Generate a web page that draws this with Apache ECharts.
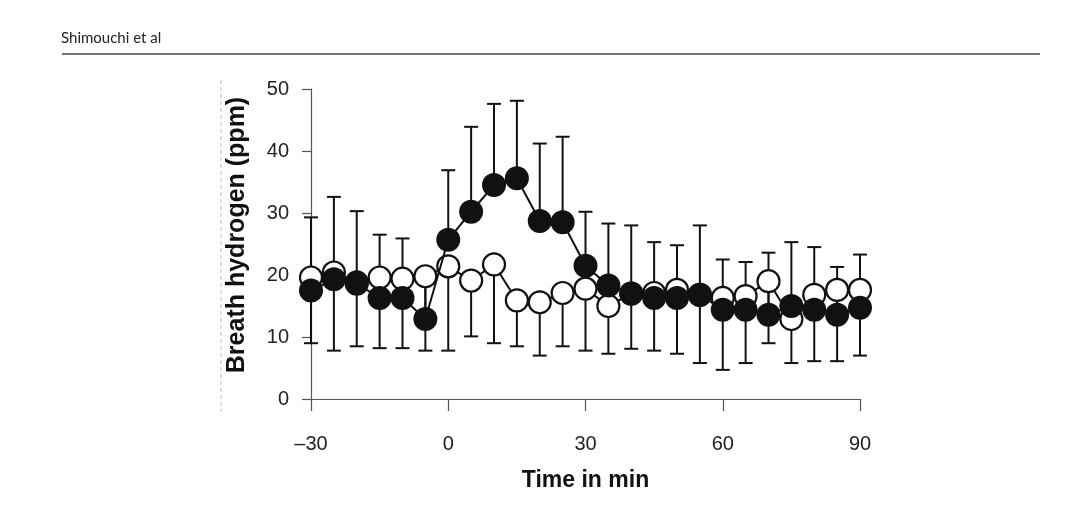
<!DOCTYPE html>
<html lang="en">
<head>
    <meta charset="UTF-8">
    <title>Breath hydrogen</title>
    <style>
        html, body { margin: 0; padding: 0; background: #fff; }
        #main { width: 1080px; height: 505px; }
    </style>
</head>
<body>
<div id="main"></div>
<script src="https://cdn.jsdelivr.net/npm/echarts@6/dist/echarts.min.js"></script>
<script type="text/javascript">
    // time points (min)
    var times = [-30, -25, -20, -15, -10, -5, 0, 5, 10, 15, 20, 25, 30, 35, 40, 45, 50, 55, 60, 65, 70, 75, 80, 85, 90];
    // open circles: mean, lower end of error bar
    var openMean = [19.6, 20.4, 18.8, 19.6, 19.4, 19.8, 21.4, 19.1, 21.7, 15.9, 15.6, 17.1, 17.8, 15.0, 17.0, 17.1, 17.6, 16.8, 16.3, 16.6, 19.0, 12.9, 16.8, 17.6, 17.6];
    var openLow = [9.0, 7.8, 8.5, 8.2, 8.2, 7.8, 7.8, 10.1, 9.0, 8.5, 7.0, 8.5, 7.8, 7.3, 8.1, 7.8, 7.3, 5.8, 4.7, 5.8, 9.0, 5.8, 6.1, 6.1, 7.0];
    // filled circles: mean, upper end of error bar
    var filledMean = [17.5, 19.3, 18.6, 16.3, 16.3, 12.9, 25.7, 30.2, 34.5, 35.6, 28.7, 28.5, 21.5, 18.3, 17.0, 16.3, 16.3, 16.8, 14.4, 14.4, 13.6, 15.0, 14.4, 13.6, 14.7];
    var filledHigh = [29.3, 32.6, 30.3, 26.5, 25.9, 18.5, 36.9, 43.9, 47.6, 48.1, 41.2, 42.3, 30.2, 28.3, 28.0, 25.3, 24.8, 28.0, 22.5, 22.1, 23.6, 25.3, 24.5, 21.3, 23.3];

    var yTicks = [0, 10, 20, 30, 40, 50];

    var ink = '#111';
    var axisInk = '#555';
    var font = 'Liberation Sans, Arial, sans-serif';

    var openData = [], openBars = [], filledData = [], filledBars = [];
    for (var i = 0; i < times.length; i++) {
        openData.push([times[i], openMean[i]]);
        openBars.push([times[i], openMean[i], openLow[i]]);
        filledData.push([times[i], filledMean[i]]);
        filledBars.push([times[i], filledMean[i], filledHigh[i]]);
    }

    // error bar: vertical stem plus a cap at the far end
    function renderBar(params, api) {
        var p0 = api.coord([api.value(0), api.value(1)]);
        var p1 = api.coord([api.value(0), api.value(2)]);
        var half = 7;
        var st = { stroke: ink, lineWidth: 2 };
        return {
            type: 'group',
            children: [
                { type: 'line', shape: { x1: p0[0], y1: p0[1], x2: p1[0], y2: p1[1] }, style: st },
                { type: 'line', shape: { x1: p1[0] - half, y1: p1[1], x2: p1[0] + half, y2: p1[1] }, style: st }
            ]
        };
    }

    var myChart = echarts.init(document.getElementById('main'));

    var option = {
        backgroundColor: '#fff',
        animation: false,
        grid: { left: 311, right: 220, top: 89, bottom: 106 },
        xAxis: {
            type: 'value',
            min: -30,
            max: 90,
            interval: 30,
            name: 'Time in min',
            nameLocation: 'middle',
            nameGap: 70,
            nameTextStyle: { fontFamily: font, fontSize: 23, fontWeight: 'bold', color: ink },
            axisLine: { onZero: false, lineStyle: { color: axisInk, width: 1.2 } },
            axisTick: { length: 12, lineStyle: { color: axisInk, width: 1.2 } },
            axisLabel: {
                margin: 35,
                fontFamily: font,
                fontSize: 20,
                color: '#222',
                formatter: function (v) { return String(v).replace('-', '\u2013'); }
            },
            splitLine: { show: false }
        },
        yAxis: {
            type: 'value',
            min: yTicks[0],
            max: yTicks[yTicks.length - 1],
            interval: 10,
            axisLine: { show: true, onZero: false, lineStyle: { color: axisInk, width: 1.2 } },
            axisTick: { show: true, length: 9, lineStyle: { color: axisInk, width: 1.2 } },
            axisLabel: { margin: 22, fontFamily: font, fontSize: 20, color: '#222' },
            splitLine: { show: false }
        },
        graphic: [
            {
                type: 'text',
                left: 61, top: 31,
                style: { text: 'Shimouchi et al', font: '15px Lato, "Open Sans", sans-serif', fill: '#222' }
            },
            {
                type: 'line',
                shape: { x1: 62, y1: 54, x2: 1040, y2: 54 },
                style: { stroke: '#444', lineWidth: 1.5 }
            },
            {
                type: 'line',
                shape: { x1: 221, y1: 80, x2: 221, y2: 412 },
                style: { stroke: '#bbb', lineWidth: 1, lineDash: [4, 3] }
            },
            {
                type: 'text',
                x: 237, y: 235,
                rotation: Math.PI / 2,
                style: {
                    text: 'Breath hydrogen (ppm)',
                    font: 'bold 25px ' + font,
                    fill: ink,
                    textAlign: 'center',
                    textVerticalAlign: 'middle'
                }
            }
        ],
        series: [
            {
                name: 'open bars',
                type: 'custom',
                renderItem: renderBar,
                data: openBars,
                z: 1
            },
            {
                name: 'filled bars',
                type: 'custom',
                renderItem: renderBar,
                data: filledBars,
                z: 1
            },
            {
                name: 'open',
                type: 'line',
                data: openData,
                symbol: 'circle',
                symbolSize: 22,
                lineStyle: { color: ink, width: 2 },
                itemStyle: { color: '#fff', borderColor: ink, borderWidth: 2.2 },
                z: 2
            },
            {
                name: 'filled',
                type: 'line',
                data: filledData,
                symbol: 'circle',
                symbolSize: 24,
                lineStyle: { color: ink, width: 2 },
                itemStyle: { color: ink, borderColor: ink, borderWidth: 0 },
                z: 3
            }
        ]
    };

    myChart.setOption(option);
</script>
</body>
</html>
